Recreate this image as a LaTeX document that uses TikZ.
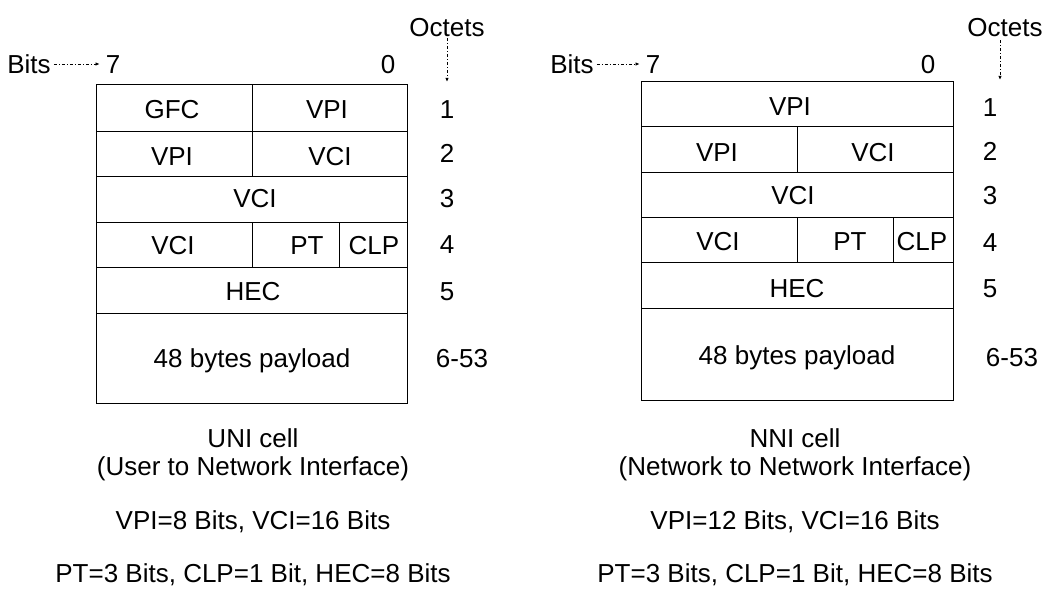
\documentclass[tikz,border=0pt]{standalone}
\usepackage{fontspec}
\setmainfont{Liberation Sans}
\usetikzlibrary{arrows.meta}
\begin{document}
\begin{tikzpicture}[x=1pt,y=-1pt,
  lbl/.style={font=\fontsize{26}{31}\selectfont, inner sep=0pt, anchor=base},
  gridline/.style={line width=0.9pt, black},
  ptr/.style={line width=0.8pt, dash pattern=on 3pt off 2pt on 1pt off 2pt, -{Latex[length=4pt,width=3.5pt]}}]
\useasboundingbox (0,0) rectangle (1046,608);

% ---------------- UNI cell ----------------
\draw[gridline] (96,84) rectangle (407,403);
\foreach \yy in {131,176,222,267,313} \draw[gridline] (96,\yy) -- (407,\yy);
\draw[gridline] (252,84) -- (252,176);
\draw[gridline] (252,222) -- (252,267);
\draw[gridline] (339,222) -- (339,267);

\node[lbl] (bitsL) at (29,73) {Bits};
\node[lbl] (sevenL) at (113,73) {7};
\node[lbl] (zeroL) at (388,73) {0};
\node[lbl] (octL) at (447,36) {Octets};
\node[lbl] (o1L) at (447,118) {1};
\node[lbl] (o2L) at (447,162) {2};
\node[lbl] (o3L) at (447,207) {3};
\node[lbl] (o4L) at (447,253) {4};
\node[lbl] (o5L) at (447,300) {5};
\node[lbl] (o6L) at (462,367) {6-53};

\node[lbl] (gfcL) at (172,118) {GFC};
\node[lbl] (vpi1L) at (327,118) {VPI};
\node[lbl] (vpi2L) at (172,165) {VPI};
\node[lbl] (vci2L) at (330,165) {VCI};
\node[lbl] (vci3L) at (255,207) {VCI};
\node[lbl] (vci4L) at (173,254) {VCI};
\node[lbl] (ptL) at (307,254) {PT};
\node[lbl] (clpL) at (374,254) {CLP};
\node[lbl] (hecL) at (253,300) {HEC};
\node[lbl] (payL) at (252,367) {48 bytes payload};

\node[lbl] (capL1) at (253,447) {UNI cell};
\node[lbl] (capL2) at (253,475) {(User to Network Interface)};
\node[lbl] (capL3) at (253,529) {VPI=8 Bits, VCI=16 Bits};
\node[lbl] (capL4) at (253,582) {PT=3 Bits, CLP=1 Bit, HEC=8 Bits};

\draw[ptr, shorten <=3pt, shorten >=6pt] (bitsL.east |- 0,64) -- (sevenL.west |- 0,64);
\draw[ptr, shorten <=2pt, shorten >=18pt] (octL.south) -- (o1L.north);

% ---------------- NNI cell ----------------
\draw[gridline] (641,81) rectangle (953,400);
\foreach \yy in {126,172,217,262,308} \draw[gridline] (641,\yy) -- (953,\yy);
\draw[gridline] (797,126) -- (797,172);
\draw[gridline] (797,217) -- (797,262);
\draw[gridline] (893,217) -- (893,262);

\node[lbl] (bitsR) at (572,73) {Bits};
\node[lbl] (sevenR) at (653,73) {7};
\node[lbl] (zeroR) at (928,73) {0};
\node[lbl] (octR) at (1005,36) {Octets};
\node[lbl] (o1R) at (990,116) {1};
\node[lbl] (o2R) at (990,160) {2};
\node[lbl] (o3R) at (990,204) {3};
\node[lbl] (o4R) at (990,251) {4};
\node[lbl] (o5R) at (990,297) {5};
\node[lbl] (o6R) at (1012,366) {6-53};

\node[lbl] (vpi1R) at (790,115) {VPI};
\node[lbl] (vpi2R) at (717,161) {VPI};
\node[lbl] (vci2R) at (873,161) {VCI};
\node[lbl] (vci3R) at (793,204) {VCI};
\node[lbl] (vci4R) at (718,250) {VCI};
\node[lbl] (ptR) at (850,250) {PT};
\node[lbl] (clpR) at (922,250) {CLP};
\node[lbl] (hecR) at (797,297) {HEC};
\node[lbl] (payR) at (797,364) {48 bytes payload};

\node[lbl] (capR1) at (795,447) {NNI cell};
\node[lbl] (capR2) at (795,475) {(Network to Network Interface)};
\node[lbl] (capR3) at (795,529) {VPI=12 Bits, VCI=16 Bits};
\node[lbl] (capR4) at (795,582) {PT=3 Bits, CLP=1 Bit, HEC=8 Bits};

\draw[ptr, shorten <=3pt, shorten >=6pt] (bitsR.east |- 0,64) -- (sevenR.west |- 0,64);
\draw[ptr, shorten <=4pt, shorten >=18pt] (octR.south -| 1000,0) -- (o1R.north -| 1000,0);
\end{tikzpicture}
\end{document}
